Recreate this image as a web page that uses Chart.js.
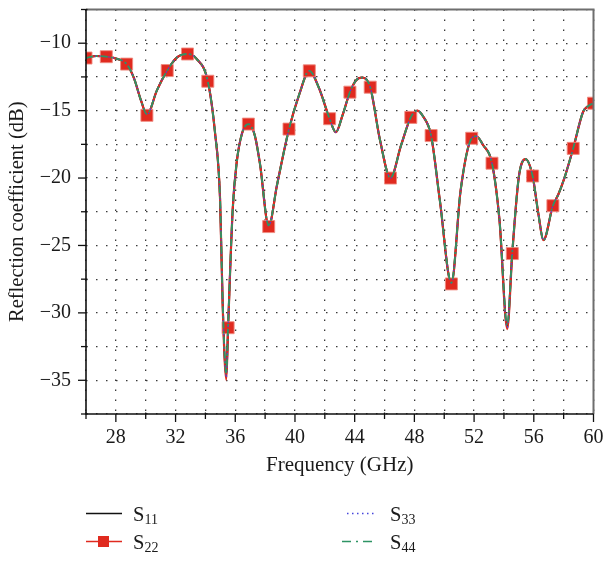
<!DOCTYPE html>
<html>
<head>
<meta charset="utf-8">
<script src="https://cdn.jsdelivr.net/npm/chart.js@4.4.1/dist/chart.umd.min.js"></script>
<style>
html,body{margin:0;padding:0;background:#fff;}
#wrap{position:relative;width:603px;height:561px;overflow:hidden;}
#c{position:absolute;left:0;top:0;}
#lgsvg{position:absolute;left:0;top:0;}
.lg{position:absolute;font-family:"Liberation Serif","DejaVu Serif",serif;font-size:20.5px;line-height:20px;color:#1a1a1a;white-space:nowrap;}
.lg sub{font-size:14px;vertical-align:-3px;line-height:0;}
</style>
</head>
<body>
<div id="wrap">
<canvas id="c" width="603" height="561"></canvas>
<svg id="lgsvg" width="603" height="561">
  <line x1="86" y1="513.5" x2="122" y2="513.5" stroke="#111" stroke-width="1.5"/>
  <line x1="86" y1="541.5" x2="122" y2="541.5" stroke="#e02a1f" stroke-width="1.5"/>
  <rect x="98" y="536" width="11" height="11" fill="#e02a1f"/>
  <line x1="347" y1="513.5" x2="376" y2="513.5" stroke="#4646dc" stroke-width="1.3" stroke-dasharray="1.5 3.5"/>
  <line x1="342" y1="541.5" x2="377" y2="541.5" stroke="#2e9464" stroke-width="1.5" stroke-dasharray="9 5 2 5"/>
</svg>
<div class="lg" style="left:133px;top:504px">S<sub>11</sub></div>
<div class="lg" style="left:133px;top:532px">S<sub>22</sub></div>
<div class="lg" style="left:390px;top:504px">S<sub>33</sub></div>
<div class="lg" style="left:390px;top:532px">S<sub>44</sub></div>
</div>
<script>
// ---- data ----
const freqGHz = [26.00, 26.70, 27.36, 28.05, 28.72, 29.20, 29.70, 30.08, 30.75, 31.44,
  32.10, 32.80, 33.40, 34.16, 34.64, 34.98, 35.16, 35.40, 35.52, 35.83,
  36.09, 36.45, 36.88, 37.30, 37.65, 38.24, 38.80, 39.60, 40.30, 40.96,
  41.60, 42.32, 42.74, 43.20, 43.68, 44.10, 44.52, 45.04, 45.70, 46.40,
  47.10, 47.76, 48.20, 48.60, 49.12, 49.70, 50.48, 51.10, 51.84, 52.15,
  52.60, 53.20, 53.70, 54.22, 54.56, 55.00, 55.45, 55.92, 56.30, 56.65,
  57.28, 57.65, 58.05, 58.64, 59.30, 59.60, 60.00];

const s22 = [-11.10, -10.95, -11.00, -11.15, -11.55, -12.55, -14.30, -15.35, -13.50, -12.03,
  -11.05, -10.80, -11.15, -12.82, -16.60, -21.50, -29.60, -34.95, -31.10, -22.30,
  -18.90, -16.70, -16.00, -16.80, -18.90, -23.60, -20.50, -16.37, -13.75, -12.05,
  -13.30, -15.60, -16.60, -15.30, -13.63, -12.75, -12.55, -13.26, -17.20, -20.00,
  -17.60, -15.50, -15.00, -15.45, -16.85, -21.60, -27.85, -20.90, -17.05, -16.90,
  -17.55, -18.90, -23.10, -31.20, -25.60, -19.90, -18.60, -19.85, -22.60, -24.60,
  -22.05, -21.20, -20.00, -17.80, -15.10, -14.70, -14.45];

const s11 = [-11.10, -10.95, -11.00, -11.15, -11.55, -12.55, -14.30, -15.30, -13.50, -12.03,
  -11.05, -10.80, -11.15, -12.82, -16.60, -21.50, -29.40, -34.70, -31.00, -22.30,
  -18.90, -16.70, -16.00, -16.80, -18.90, -23.55, -20.50, -16.37, -13.75, -12.05,
  -13.30, -15.60, -16.60, -15.30, -13.63, -12.75, -12.55, -13.26, -17.20, -20.00,
  -17.60, -15.50, -15.00, -15.45, -16.85, -21.60, -27.80, -20.90, -17.05, -16.90,
  -17.55, -18.90, -23.10, -31.00, -25.50, -19.90, -18.60, -19.85, -22.60, -24.60,
  -22.05, -21.20, -20.00, -17.80, -15.10, -14.70, -14.45];

const s33 = [-11.10, -10.95, -11.00, -11.15, -11.55, -12.55, -14.30, -15.30, -13.50, -12.03,
  -11.05, -10.80, -11.15, -12.82, -16.60, -21.50, -29.50, -34.80, -31.05, -22.30,
  -18.90, -16.70, -16.00, -16.80, -18.90, -23.55, -20.50, -16.37, -13.75, -12.05,
  -13.30, -15.60, -16.60, -15.30, -13.63, -12.75, -12.55, -13.26, -17.20, -20.00,
  -17.60, -15.50, -15.00, -15.45, -16.85, -21.60, -27.80, -20.90, -17.05, -16.90,
  -17.55, -18.90, -23.10, -31.10, -25.55, -19.90, -18.60, -19.85, -22.60, -24.60,
  -22.05, -21.20, -20.00, -17.80, -15.10, -14.70, -14.45];

const s44 = [-11.10, -10.95, -11.00, -11.15, -11.55, -12.55, -14.30, -15.25, -13.50, -12.03,
  -11.05, -10.80, -11.15, -12.82, -16.60, -21.50, -29.30, -34.50, -30.90, -22.30,
  -18.90, -16.70, -16.00, -16.80, -18.90, -23.50, -20.50, -16.37, -13.75, -12.05,
  -13.30, -15.60, -16.60, -15.30, -13.63, -12.75, -12.55, -13.26, -17.20, -20.00,
  -17.60, -15.50, -15.00, -15.45, -16.85, -21.60, -27.75, -20.90, -17.05, -16.90,
  -17.55, -18.90, -23.10, -30.90, -25.45, -19.90, -18.60, -19.85, -22.60, -24.60,
  -22.05, -21.20, -20.00, -17.80, -15.10, -14.70, -14.45];

// frequencies at which the S22 curve carries a square marker
const markerFreqGHz = [26.00, 27.36, 28.72, 30.08, 31.44, 32.80, 34.16, 35.52, 36.88, 38.24,
  39.60, 40.96, 42.32, 43.68, 45.04, 46.40, 47.76, 49.12, 50.48, 51.84,
  53.20, 54.56, 55.92, 57.28, 58.64, 60.00];

const xTickLabels = [28, 32, 36, 40, 44, 48, 52, 56, 60];
const yTickLabels = [-35, -30, -25, -20, -15, -10];

// ---- chart ----
const FONT = '"Liberation Serif","DejaVu Serif",serif';
const TXT = '#1a1a1a';
const pts = arr => freqGHz.map((f, i) => ({x: f, y: arr[i]}));
const isMarker = i => markerFreqGHz.some(m => Math.abs(m - freqGHz[i]) < 1e-6);
const isLabel = (list, v) => list.some(l => Math.abs(l - v) < 1e-6);

const framePlugin = {
  id: 'frame',
  afterDraw(chart) {
    const {ctx, chartArea: a, scales: {x, y}} = chart;
    ctx.save();
    ctx.strokeStyle = '#6e6e6e';
    ctx.lineWidth = 2;
    ctx.beginPath();
    ctx.moveTo(a.left, a.top); ctx.lineTo(a.right, a.top); ctx.lineTo(a.right, a.bottom);
    ctx.stroke();
    ctx.strokeStyle = '#111';
    ctx.lineWidth = 1.6;
    ctx.beginPath();
    ctx.moveTo(a.left, a.top); ctx.lineTo(a.left, a.bottom); ctx.lineTo(a.right, a.bottom);
    ctx.stroke();
    ctx.lineWidth = 1.3;
    x.ticks.forEach(t => {
      const px = x.getPixelForValue(t.value);
      const major = isLabel(xTickLabels, t.value);
      ctx.beginPath();
      ctx.moveTo(px, a.bottom - (major ? 0 : 1.5));
      ctx.lineTo(px, a.bottom + (major ? 8 : 5));
      ctx.stroke();
    });
    y.ticks.forEach(t => {
      const py = y.getPixelForValue(t.value);
      const major = isLabel(yTickLabels, t.value);
      ctx.beginPath();
      ctx.moveTo(a.left + (major ? 0 : 1.5), py);
      ctx.lineTo(a.left - (major ? 8 : 5), py);
      ctx.stroke();
    });
    ctx.restore();
  }
};

new Chart(document.getElementById('c'), {
  type: 'line',
  data: {
    datasets: [
      {label: 'S11', data: pts(s11), borderColor: '#111', borderWidth: 2, order: 4},
      {label: 'S22', data: pts(s22), borderColor: '#e02a1f', borderWidth: 2.2, order: 3,
        pointStyle: 'rect',
        pointRadius: c => isMarker(c.dataIndex) ? 8.5 : 0,
        pointBackgroundColor: '#e02a1f', pointBorderColor: 'rgba(240,140,130,0.9)', pointBorderWidth: 1},
      {label: 'S33', data: pts(s33), borderColor: '#4646dc', borderWidth: 1.3, borderDash: [1.5, 3], order: 2},
      {label: 'S44', data: pts(s44), borderColor: '#2e9464', borderWidth: 1.8, borderDash: [7, 3, 2, 3], order: 1}
    ]
  },
  options: {
    responsive: false,
    animation: false,
    devicePixelRatio: 1,
    layout: {padding: {left: 0, right: 9, top: 5, bottom: 83}},
    plugins: {legend: {display: false}, tooltip: {enabled: false}},
    elements: {
      point: {radius: 0, hoverRadius: 0},
      line: {cubicInterpolationMode: 'monotone', fill: false}
    },
    scales: {
      x: {
        type: 'linear', min: 26, max: 60,
        ticks: {stepSize: 2, autoSkip: false, maxRotation: 0, padding: 12,
          font: {family: FONT, size: 20}, color: TXT,
          callback: v => isLabel(xTickLabels, v) ? String(v) : ''},
        grid: {color: '#3a3a3a', lineWidth: 1.3, drawTicks: false},
        border: {display: false, dash: [1.5, 8.5]},
        title: {display: true, text: 'Frequency (GHz)', color: TXT,
          font: {family: FONT, size: 21}, padding: {top: 0, bottom: 0}},
        afterFit(s) { s.height = 64; s.paddingLeft = 0; s.paddingRight = 0; }
      },
      y: {
        type: 'linear', min: -37.5, max: -7.5,
        ticks: {stepSize: 2.5, autoSkip: false, padding: 15,
          font: {family: FONT, size: 20}, color: TXT,
          callback: v => isLabel(yTickLabels, v) ? '\u2212' + Math.abs(v) : ''},
        grid: {color: '#3a3a3a', lineWidth: 1.3, drawTicks: false},
        border: {display: false, dash: [1.5, 8.5]},
        title: {display: true, text: 'Reflection coefficient (dB)', color: TXT,
          font: {family: FONT, size: 20.5}, padding: {top: 5, bottom: 0}},
        afterFit(s) { s.width = 86; s.paddingTop = 0; s.paddingBottom = 0; }
      }
    }
  },
  plugins: [framePlugin]
});
</script>
</body>
</html>
